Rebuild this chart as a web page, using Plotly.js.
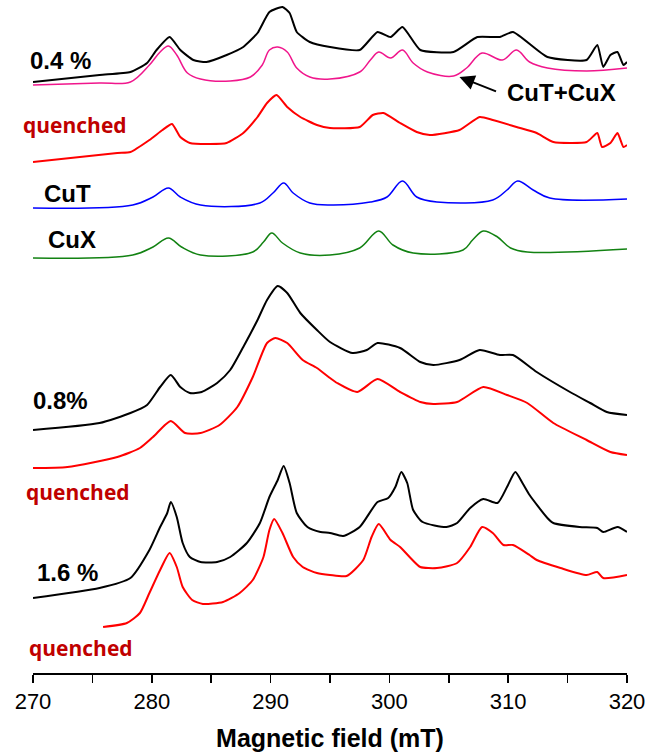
<!DOCTYPE html>
<html>
<head>
<meta charset="utf-8">
<script src="https://cdn.plot.ly/plotly-3.0.1.min.js"></script>
<style>html,body{margin:0;padding:0;background:#fff;}#chart{width:648px;height:753px;}</style>
</head>
<body>
<div id="chart"></div>
<script>
// Magnetic field (mT) and stacked (offset) EPR intensities, arbitrary units
const x_04 = [270.0,275.6,278.2,279.6,280.4,281.5,282.4,283.5,284.6,286.3,287.7,288.9,289.9,291.0,291.6,292.2,293.3,295.0,297.5,299.0,300.1,301.1,302.6,305.4,307.4,309.3,310.4,313.3,316.6,317.5,318.0,318.6,319.2,319.7,320.0];
const y_04 = [591,598,601,610,623,636,623,613,611,618,626,640,661,666,660,641,631,626,623,641,636,646,623,621,636,636,641,616,613,628,606,618,621,608,611];

const x_sum = [270.0,275.6,278.2,279.8,280.7,281.4,282.1,283.0,284.1,286.6,288.3,289.3,289.9,290.6,291.4,292.2,293.3,295.0,297.5,298.4,299.1,300.1,301.1,302.0,303.2,305.4,306.5,307.8,309.5,310.7,311.8,313.3,316.6,320.0];
const y_sum = [588,590,591,608,621,627,618,600,594,592,596,608,623,626,621,605,596,594,601,613,621,615,623,610,601,597,605,620,613,623,611,605,602,605];

const x_04q = [270.0,277.1,278.2,279.8,280.9,281.7,282.4,283.2,284.9,286.3,287.7,288.9,289.7,290.5,291.4,292.5,293.9,295.0,297.5,298.6,299.5,300.9,302.3,303.4,305.9,307.6,308.7,310.7,312.4,313.8,316.6,317.5,317.9,318.6,319.2,319.7,320.0];
const y_04q = [511,520,521,533,543,549,536,530,529,530,540,556,570,578,566,556,548,545,546,558,560,550,541,538,543,556,553,546,540,531,531,540,526,530,540,526,528];

const x_cuT = [270.0,278.4,280.1,281.4,282.4,284.1,289.1,290.2,291.1,291.9,293.3,295.0,298.4,299.8,301.1,302.3,304.0,308.7,309.9,310.8,312.1,313.5,320.0];
const y_cuT = [465,468,476,485,476,468,470,480,490,480,470,468,471,476,492,476,471,473,483,492,483,475,474];

const x_cuX = [270.0,278.4,280.1,281.4,282.5,284.1,288.5,289.4,290.1,291.0,292.5,295.0,297.5,299.1,300.3,302.0,306.2,307.0,307.9,309.1,310.2,311.6,320.0];
const y_cuX = [415,418,426,435,426,418,421,431,440,430,420,418,425,442,428,420,423,433,442,436,425,421,424];

const x_08 = [270.0,275.6,278.2,279.6,280.7,281.6,282.4,283.2,284.2,285.5,286.6,287.7,288.9,289.7,290.6,291.4,292.5,293.9,295.0,296.9,298.1,299.0,300.9,302.6,303.7,305.9,307.6,309.3,310.4,312.4,315.2,316.9,318.3,320.0];
const y_08 = [243,250,260,268,286,298,286,280,281,290,303,326,353,373,387,380,360,343,331,320,323,330,325,311,308,313,323,318,318,301,281,270,261,258];

const x_08q = [270.0,272.9,277.1,279.0,280.1,281.6,282.8,284.1,285.7,287.2,288.5,289.7,290.4,291.4,292.7,293.9,295.0,295.6,297.3,299.0,300.9,302.6,303.7,305.7,307.9,309.9,311.6,313.8,316.6,318.6,320.0];
const y_08q = [205,206,216,225,236,252,240,240,248,266,296,330,335,330,313,305,295,290,281,294,281,271,269,271,286,278,270,250,233,221,218];

const x_16 = [270.0,275.6,278.2,279.8,280.7,281.3,281.6,282.1,282.6,283.2,284.1,285.5,286.6,288.0,289.1,289.9,290.6,291.1,291.6,292.2,293.1,294.2,295.0,296.1,297.5,299.0,299.9,300.5,301.0,301.5,302.0,302.8,304.8,305.7,306.8,307.9,309.1,309.9,310.6,311.2,311.8,313.3,313.8,316.0,317.5,318.0,319.2,320.0];
const y_16 = [75,85,95,123,146,160,171,156,130,116,111,111,116,130,150,176,193,207,190,160,146,141,140,137,146,171,175,186,201,190,163,151,146,150,165,174,170,186,201,190,178,155,150,146,145,141,146,141];

const x_16q = [275.9,277.9,279.0,279.8,280.7,281.5,282.1,282.6,283.4,284.3,286.0,287.4,288.5,289.4,289.9,290.3,291.0,291.9,292.7,293.9,295.0,296.4,297.8,298.5,299.1,300.1,300.9,301.7,302.6,304.0,305.7,306.8,307.8,308.7,309.6,310.4,311.8,312.4,314.4,316.6,317.5,318.0,320.0];
const y_16q = [46,50,60,80,103,120,106,86,73,69,71,80,93,116,143,154,140,116,106,100,98,97,113,136,149,133,126,116,106,105,110,126,146,140,128,128,118,113,105,98,101,95,98];

const seriesNames = ['0.4 %','CuT+CuX','0.4 % quenched','CuT','CuX','0.8%','0.8% quenched','1.6 %','1.6 % quenched'];
const tickVals = [270,280,290,300,310,320];

const BLACK='#000000', RED='#ff0000', PINK='#f0168c', BLUE='#0000ff', GREEN='#128212';
function tr(x,y,name,color,w,smooth){
  return {x:x,y:y,name:name,type:'scatter',mode:'lines',
    line:{color:color,width:w,shape:'spline',smoothing:smooth},hoverinfo:'x+name'};
}
const data = [
  tr(x_04,y_04,seriesNames[0],BLACK,2,0.5),
  tr(x_sum,y_sum,seriesNames[1],PINK,1.5,1),
  tr(x_04q,y_04q,seriesNames[2],RED,2,0.5),
  tr(x_cuT,y_cuT,seriesNames[3],BLUE,1.5,1),
  tr(x_cuX,y_cuX,seriesNames[4],GREEN,1.5,1),
  tr(x_08,y_08,seriesNames[5],BLACK,2,0.6),
  tr(x_08q,y_08q,seriesNames[6],RED,2,0.6),
  tr(x_16,y_16,seriesNames[7],BLACK,2,0.6),
  tr(x_16q,y_16q,seriesNames[8],RED,2,0.6)
];

const LBL = {family:'Liberation Sans, Arial, sans-serif', size:24, color:'#000'};
const QF = {family:'Open Sans, sans-serif', size:21, color:'#c00000', weight:700};
function lab(text,x,y,font){
  return {text:text,x:x,y:y,xref:'x',yref:'y',showarrow:false,font:font,xanchor:'center',yanchor:'middle'};
}
const annotations = [
  lab('<b>0.4 %</b>',272.3,613,LBL),
  lab('<b>quenched</b>',273.5,548,QF),
  lab('<b>CuT</b>',272.9,480,LBL),
  lab('<b>CuX</b>',273.3,434,LBL),
  lab('<b>CuT+CuX</b>',314.5,581,LBL),
  lab('<b>0.8%</b>',272.3,273,LBL),
  lab('<b>quenched</b>',273.8,181,QF),
  lab('<b>1.6 %</b>',272.9,101,LBL),
  lab('<b>quenched</b>',274.0,25,QF),
  {x:305.9,y:596,ax:309.1,ay:581,xref:'x',yref:'y',axref:'x',ayref:'y',text:'',showarrow:true,
   arrowhead:2,arrowsize:1.5,arrowwidth:2,arrowcolor:'#000'}
];

const layout = {
  width:648,height:753,
  margin:{l:33,r:21,t:0,b:80},
  paper_bgcolor:'#fff',plot_bgcolor:'#fff',
  showlegend:false,
  xaxis:{range:[270,320],tickvals:tickVals,ticks:'outside',ticklen:8,tickwidth:1.5,tickcolor:'#000',
    showline:true,linecolor:'#000',linewidth:1.5,showgrid:false,zeroline:false,
    tickfont:{family:'Liberation Sans, Arial, sans-serif',size:22,color:'#000'},
    minor:{dtick:5,tick0:270,ticks:'outside',ticklen:8,tickwidth:1.5,tickcolor:'#000',showgrid:false},
    title:{text:'<b>Magnetic field (mT)</b>',standoff:16,font:{family:'Liberation Sans, Arial, sans-serif',size:25,color:'#000'}},
    automargin:false},
  yaxis:{range:[0,673],visible:false,showgrid:false,zeroline:false,fixedrange:true},
  annotations:annotations
};
Plotly.newPlot('chart',data,layout,{staticPlot:true,displayModeBar:false});
</script>
</body>
</html>
